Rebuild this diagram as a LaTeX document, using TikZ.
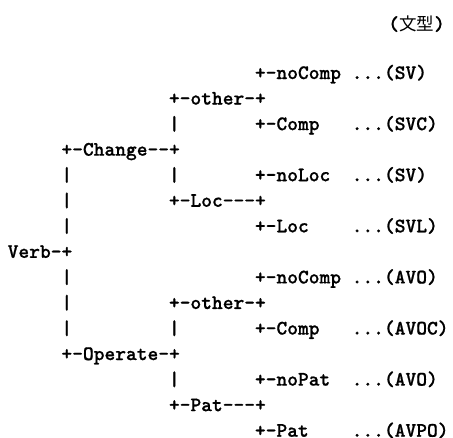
\documentclass[tikz,border=0pt]{standalone}
\usepackage{fontspec}
\newfontfamily\ttbold{lmmonolt10-bold.otf}[FakeBold=0.8]
\newfontfamily\cjkfont{Noto Sans CJK JP}
\newcommand\frag[4]{\node[tt] (#1) at ({7.5+#2*10.75},{-79-(#3-3)*25.55}) {#4};}
\begin{document}
\begin{tikzpicture}[x=1pt,y=1pt,
  tt/.style={inner sep=0pt, anchor=base west, font=\ttbold\fontsize{20.5}{24}\selectfont}]
\fill[white] (0,0) rectangle (453,-437);
\useasboundingbox (0,0) rectangle (453,-437);
% header
\node[tt, anchor=base east] (hdr) at (445,-30.3) {(\cjkfont\fontsize{17.5}{20}\selectfont 文型\ttbold\fontsize{20.5}{24}\selectfont)};
% line 3
\frag{a1}{23}{3}{+-noComp}
\frag{a2}{32}{3}{...(SV)}
% line 4
\frag{b1}{15}{4}{+-other-+}
% line 5
\frag{c1}{15}{5}{|}
\frag{c2}{23}{5}{+-Comp}
\frag{c3}{32}{5}{...(SVC)}
% line 6
\frag{d1}{5}{6}{+-Change--+}
% line 7
\frag{e1}{5}{7}{|}
\frag{e2}{15}{7}{|}
\frag{e3}{23}{7}{+-noLoc}
\frag{e4}{32}{7}{...(SV)}
% line 8
\frag{f1}{5}{8}{|}
\frag{f2}{15}{8}{+-Loc---+}
% line 9
\frag{g1}{5}{9}{|}
\frag{g2}{23}{9}{+-Loc}
\frag{g3}{32}{9}{...(SVL)}
% line 10
\frag{h1}{0}{10}{Verb-+}
% line 11
\frag{i1}{5}{11}{|}
\frag{i2}{23}{11}{+-noComp}
\frag{i3}{32}{11}{...(AVO)}
% line 12
\frag{j1}{5}{12}{|}
\frag{j2}{15}{12}{+-other-+}
% line 13
\frag{k1}{5}{13}{|}
\frag{k2}{15}{13}{|}
\frag{k3}{23}{13}{+-Comp}
\frag{k4}{32}{13}{...(AVOC)}
% line 14
\frag{l1}{5}{14}{+-Operate-+}
% line 15
\frag{m1}{15}{15}{|}
\frag{m2}{23}{15}{+-noPat}
\frag{m3}{32}{15}{...(AVO)}
% line 16
\frag{n1}{15}{16}{+-Pat---+}
% line 17
\frag{o1}{23}{17}{+-Pat}
\frag{o2}{32}{17}{...(AVPO)}
\end{tikzpicture}
\end{document}
